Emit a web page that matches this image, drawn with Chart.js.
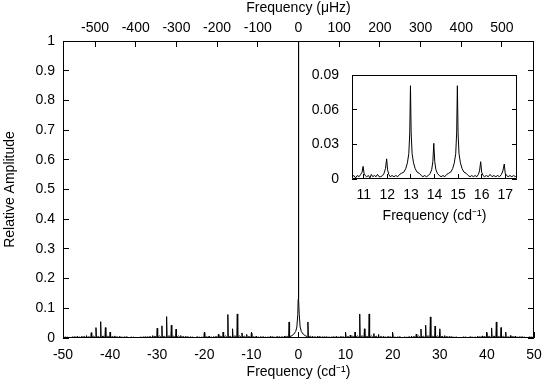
<!DOCTYPE html>
<html>
<head>
<meta charset="utf-8">
<script src="https://cdn.jsdelivr.net/npm/chart.js@4.4.1/dist/chart.umd.min.js"></script>
<style>
  body { margin: 0; background: #fff; }
  #wrap { position: relative; width: 543px; height: 384px; }
  #grafico { position: absolute; left: 0; top: 0; }
  #inset { position: absolute; left: 296px; top: 62px; }
</style>
</head>
<body>
<div id="wrap">
  <canvas id="grafico" width="543" height="384"></canvas>
  <canvas id="inset" width="230" height="168"></canvas>
</div>
<script>
// tick labels
const mainXTicks = [-50, -40, -30, -20, -10, 0, 10, 20, 30, 40, 50];
const mainYTicks = [0, 0.1, 0.2, 0.3, 0.4, 0.5, 0.6, 0.7, 0.8, 0.9, 1];
const uHzTicks = [-500, -400, -300, -200, -100, 0, 100, 200, 300, 400, 500];
const uHzPerCd = 11.574;
const insetXTicks = [11, 12, 13, 14, 15, 16, 17];
const insetYTicks = [0, 0.03, 0.06, 0.09];

// alias peaks at every integer frequency from -50 to 50 (cd-1), null = covered by central peak
const aliasAmp = [
  0.003, 0.004, 0.004, 0.005, 0.006, 0.008, 0.018, 0.035, 0.055, 0.035,
  0.020, 0.007, 0.006, 0.004, 0.003, 0.004, 0.003, 0.004, 0.005, 0.008,
  0.033, 0.041, 0.072, 0.043, 0.030, 0.008, 0.005, 0.004, 0.003, 0.004,
  0.018, 0.006, 0.005, 0.012, 0.020, 0.079, 0.031, 0.081, 0.017, 0.012,
  0.016, 0.006, 0.005, 0.004, 0.005, 0.004, 0.005, 0.006, 0.054, null,
  null,
  null, 0.054, 0.006, 0.005, 0.004, 0.005, 0.004, 0.005, 0.006, 0.018,
  0.010, 0.020, 0.081, 0.031, 0.081, 0.015, 0.012, 0.005, 0.006, 0.017,
  0.004, 0.003, 0.004, 0.006, 0.013, 0.030, 0.043, 0.071, 0.040, 0.031,
  0.008, 0.005, 0.004, 0.003, 0.004, 0.003, 0.004, 0.006, 0.007, 0.019,
  0.034, 0.054, 0.035, 0.020, 0.008, 0.006, 0.005, 0.004, 0.004, 0.003
];
const peakFloor = 0.001;

// background noise at half-integer frequencies from -49.5 to 49.5
const noiseAmp = [
  0.003, 0.002, 0.004, 0.003, 0.005, 0.004, 0.006, 0.005, 0.007, 0.006,
  0.005, 0.004, 0.003, 0.004, 0.003, 0.002, 0.003, 0.004, 0.005, 0.006,
  0.007, 0.006, 0.008, 0.006, 0.007, 0.005, 0.004, 0.003, 0.004, 0.003,
  0.004, 0.003, 0.005, 0.006, 0.007, 0.006, 0.008, 0.007, 0.006, 0.005,
  0.004, 0.003, 0.004, 0.003, 0.004, 0.005, 0.004, 0.006, 0.005, 0.005,
  0.005, 0.005, 0.006, 0.004, 0.005, 0.004, 0.003, 0.004, 0.003, 0.004,
  0.005, 0.006, 0.007, 0.008, 0.006, 0.007, 0.006, 0.005, 0.003, 0.004,
  0.003, 0.004, 0.003, 0.004, 0.005, 0.007, 0.006, 0.008, 0.006, 0.007,
  0.006, 0.005, 0.004, 0.003, 0.002, 0.003, 0.004, 0.003, 0.004, 0.005,
  0.006, 0.007, 0.005, 0.006, 0.004, 0.005, 0.003, 0.004, 0.002, 0.003
];

// central window peak
const centralFreq = [-1.8, -1.4, -1.0, -0.6, -0.35, -0.15, -0.07, -0.02, 0, 0.02, 0.07, 0.15, 0.35, 0.6, 1.0, 1.4, 1.8];
const centralAmp = [0.005, 0.008, 0.013, 0.022, 0.037, 0.08, 0.13, 0.3, 1.0, 0.3, 0.13, 0.08, 0.037, 0.022, 0.013, 0.008, 0.005];

// inset: zoom on 10.5 - 17.5 cd-1
const insetFreq = [
  10.50, 10.58, 10.65, 10.72, 10.80, 10.87, 10.93, 10.97, 11.01, 11.06,
  11.12, 11.20, 11.26, 11.32, 11.38, 11.45, 11.52, 11.58, 11.65, 11.72,
  11.80, 11.86, 11.92, 11.97, 12.01, 12.06, 12.12, 12.20, 12.28, 12.36,
  12.44, 12.52, 12.60, 12.70, 12.78, 12.85, 12.91, 12.95, 12.98, 13.01,
  13.05, 13.11, 13.18, 13.26, 13.35, 13.44, 13.51, 13.58, 13.66, 13.74,
  13.82, 13.88, 13.93, 13.97, 14.01, 14.06, 14.12, 14.20, 14.28, 14.36,
  14.44, 14.52, 14.60, 14.69, 14.77, 14.84, 14.90, 14.94, 14.97, 15.00,
  15.04, 15.10, 15.17, 15.25, 15.34, 15.43, 15.51, 15.58, 15.65, 15.72,
  15.80, 15.86, 15.91, 15.96, 16.00, 16.06, 16.12, 16.20, 16.28, 16.36,
  16.44, 16.52, 16.60, 16.68, 16.76, 16.84, 16.90, 16.96, 17.00, 17.06,
  17.12, 17.20, 17.28, 17.36, 17.43, 17.50
];
const insetAmp = [
  0.002, 0.003, 0.001, 0.003, 0.002, 0.004, 0.006, 0.011, 0.005, 0.003,
  0.002, 0.003, 0.001, 0.004, 0.002, 0.003, 0.002, 0.004, 0.002, 0.002,
  0.003, 0.005, 0.009, 0.0175, 0.008, 0.004, 0.002, 0.003, 0.002, 0.003,
  0.002, 0.004, 0.005, 0.006, 0.009, 0.014, 0.022, 0.04, 0.081, 0.04,
  0.022, 0.014, 0.009, 0.006, 0.005, 0.003, 0.002, 0.003, 0.002, 0.003,
  0.005, 0.008, 0.015, 0.031, 0.015, 0.008, 0.005, 0.003, 0.002, 0.003,
  0.002, 0.004, 0.005, 0.006, 0.009, 0.014, 0.022, 0.04, 0.081, 0.04,
  0.022, 0.014, 0.009, 0.006, 0.005, 0.003, 0.002, 0.003, 0.002, 0.003,
  0.002, 0.004, 0.007, 0.015, 0.006, 0.003, 0.002, 0.003, 0.002, 0.004,
  0.002, 0.003, 0.002, 0.003, 0.002, 0.004, 0.007, 0.013, 0.005, 0.003,
  0.002, 0.003, 0.002, 0.003, 0.002, 0.003
];

// build the main spectrum points
let puntos = [];
aliasAmp.forEach((a, i) => {
  const f = -50 + i;
  if (a === null) return;
  puntos.push({x: f - 0.1, y: peakFloor}, {x: f, y: a}, {x: f + 0.1, y: peakFloor});
});
noiseAmp.forEach((a, i) => {
  const f = -49.5 + i;
  if (Math.abs(f) < 1.9) return;
  puntos.push({x: f, y: a});
});
centralFreq.forEach((f, i) => puntos.push({x: f, y: centralAmp[i]}));
puntos = puntos.filter(p => p.x >= -50 && p.x <= 50).sort((a, b) => a.x - b.x);

const insetPuntos = insetFreq.map((f, i) => ({x: f, y: insetAmp[i]}));

Chart.defaults.font.family = "'Liberation Sans', Arial, Helvetica, sans-serif";
Chart.defaults.font.size = 14;
Chart.defaults.color = '#000';

// frame and inward tick marks like gnuplot
const marco = {
  id: 'marco',
  afterDatasetsDraw(chart, args, opts) {
    const ctx = chart.ctx, a = chart.chartArea, len = opts.len;
    ctx.save();
    ctx.strokeStyle = '#000';
    ctx.lineWidth = 1;
    ctx.beginPath();
    ctx.rect(Math.round(a.left) + 0.5, Math.round(a.top) + 0.5,
             Math.round(a.right - a.left) - 1, Math.round(a.bottom - a.top) - 1);
    opts.sides.forEach(side => {
      const s = chart.scales[side.scale];
      s.ticks.forEach(t => {
        const p = Math.floor(s.getPixelForValue(t.value)) + 0.5;
        if (side.edge === 'left') { ctx.moveTo(a.left, p); ctx.lineTo(a.left + len, p); }
        if (side.edge === 'right') { ctx.moveTo(a.right, p); ctx.lineTo(a.right - len, p); }
        if (side.edge === 'top') { ctx.moveTo(p, a.top); ctx.lineTo(p, a.top + len); }
        if (side.edge === 'bottom') { ctx.moveTo(p, a.bottom); ctx.lineTo(p, a.bottom - len); }
      });
    });
    ctx.stroke();
    ctx.restore();
  }
};

const setTicks = (lista) => (s) => { s.ticks = lista.map(v => ({value: v})); };
const noGrid = {display: false};
const noBorder = {display: false};

new Chart(document.getElementById('grafico'), {
  type: 'line',
  data: {
    datasets: [{
      data: puntos,
      borderColor: '#000',
      borderWidth: 1,
      pointRadius: 0,
      tension: 0
    }]
  },
  options: {
    responsive: false,
    animation: false,
    devicePixelRatio: 1,
    layout: {padding: {top: 0, right: 9, left: 0, bottom: 0}},
    plugins: {
      legend: {display: false},
      tooltip: {enabled: false},
      marco: {
        len: 6,
        sides: [
          {scale: 'y', edge: 'left'}, {scale: 'y', edge: 'right'},
          {scale: 'x', edge: 'bottom'}, {scale: 'x2', edge: 'top'}
        ]
      }
    },
    scales: {
      x: {
        type: 'linear', position: 'bottom', min: -50, max: 50,
        afterBuildTicks: setTicks(mainXTicks),
        afterFit: s => { s.height = 46; },
        grid: noGrid, border: noBorder,
        ticks: {padding: 1, maxRotation: 0, callback: v => String(v)},
        title: {display: true, text: 'Frequency (cd\u207B\u00B9)', padding: {top: 0, bottom: 3}}
      },
      x2: {
        type: 'linear', position: 'top', display: true,
        min: -50 * uHzPerCd, max: 50 * uHzPerCd,
        afterBuildTicks: setTicks(uHzTicks),
        afterFit: s => { s.height = 41; },
        grid: noGrid, border: noBorder,
        ticks: {padding: -4, maxRotation: 0, callback: v => String(v)},
        title: {display: true, text: 'Frequency (\u03BCHz)', padding: {top: 0, bottom: 0}}
      },
      y: {
        type: 'linear', position: 'left', min: 0, max: 1,
        afterBuildTicks: setTicks(mainYTicks),
        afterFit: s => { s.width = 63; },
        grid: noGrid, border: noBorder,
        ticks: {padding: 0, callback: v => String(v)},
        title: {display: true, text: 'Relative Amplitude', padding: {top: 2, bottom: 0}}
      }
    }
  },
  plugins: [marco]
});

new Chart(document.getElementById('inset'), {
  type: 'line',
  data: {
    datasets: [{
      data: insetPuntos,
      borderColor: '#000',
      borderWidth: 1,
      pointRadius: 0,
      tension: 0
    }]
  },
  options: {
    responsive: false,
    animation: false,
    devicePixelRatio: 1,
    layout: {padding: {top: 13, right: 9, left: 0, bottom: 0}},
    plugins: {
      legend: {display: false},
      tooltip: {enabled: false},
      marco: {
        len: 5,
        sides: [
          {scale: 'y', edge: 'left'}, {scale: 'y', edge: 'right'},
          {scale: 'x', edge: 'bottom'}
        ]
      }
    },
    scales: {
      x: {
        type: 'linear', position: 'bottom', min: 10.5, max: 17.5,
        afterBuildTicks: setTicks(insetXTicks),
        afterFit: s => { s.height = 51; },
        grid: noGrid, border: noBorder,
        ticks: {padding: 0, maxRotation: 0, callback: v => String(v)},
        title: {display: true, text: 'Frequency (cd\u207B\u00B9)', padding: {top: 0, bottom: 5}}
      },
      y: {
        type: 'linear', position: 'left', min: 0, max: 0.09,
        afterBuildTicks: setTicks(insetYTicks),
        afterFit: s => { s.width = 56; },
        grid: noGrid, border: noBorder,
        ticks: {padding: 5, callback: v => String(v)}
      }
    }
  },
  plugins: [marco]
});
</script>
</body>
</html>
